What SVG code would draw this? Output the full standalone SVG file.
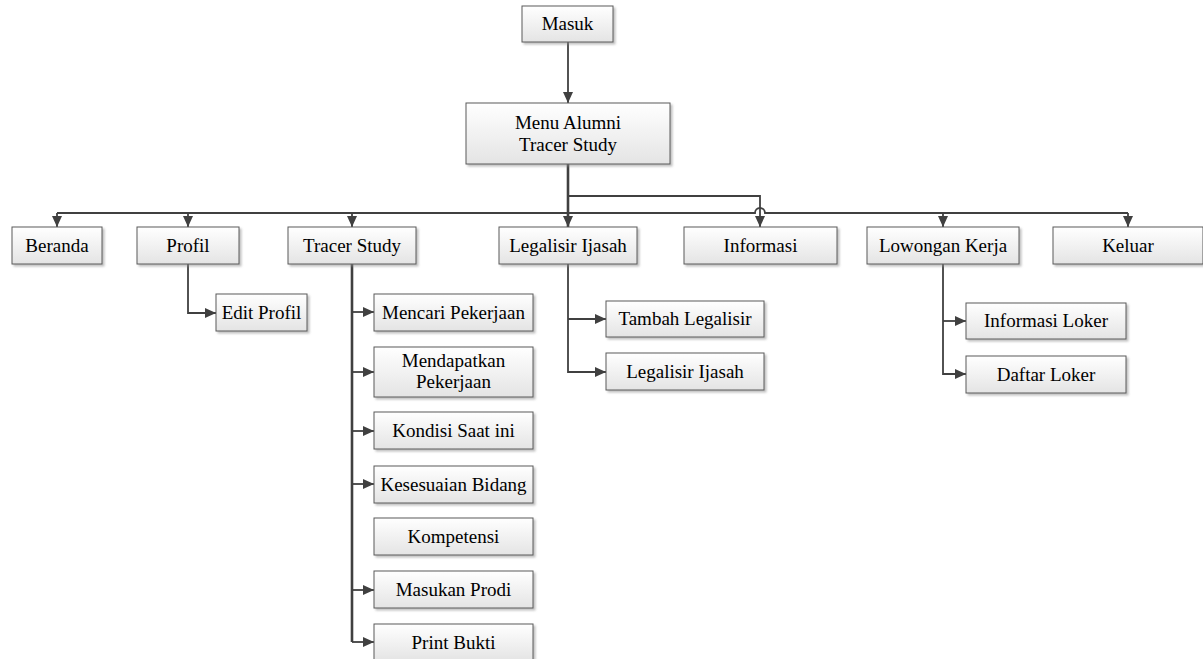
<svg xmlns="http://www.w3.org/2000/svg" width="1203" height="659" viewBox="0 0 1203 659">
<defs>
<linearGradient id="g" x1="0" y1="0" x2="0" y2="1">
<stop offset="0" stop-color="#ffffff"/>
<stop offset="1" stop-color="#e4e4e4"/>
</linearGradient>
<filter id="sh" x="-10%" y="-10%" width="130%" height="140%">
<feDropShadow dx="2" dy="2" stdDeviation="1" flood-color="#8a8a8a" flood-opacity="0.55"/>
</filter>
<marker id="ar" markerUnits="userSpaceOnUse" markerWidth="11" markerHeight="10" refX="11" refY="5" orient="auto">
<path d="M0,0 L11,5 L0,10 z" fill="#404040"/>
</marker>
</defs>
<style>
.box{fill:url(#g);stroke:#5a5a5a;stroke-width:1;filter:url(#sh)}
.t{font-family:'Liberation Serif','Times New Roman','DejaVu Serif',serif;font-size:19px;fill:#000;text-anchor:middle}
.c{fill:none;stroke:#404040;stroke-width:1.8}
.thick{stroke-width:2.6}
.a{marker-end:url(#ar)}
</style>
<rect width="1203" height="659" fill="#fff"/>
<g id="connectors">
<path class="c a" d="M568,42 V103"/>
<path class="c thick a" d="M568,164 V227"/>
<path class="c a" d="M568,196 H760 V227"/>
<path class="c" d="M57,213 H755 A5,5 0 0 1 765,213 H1128"/>
<path class="c a" d="M57,213 V227"/>
<path class="c a" d="M188,213 V227"/>
<path class="c a" d="M352,213 V227"/>
<path class="c a" d="M943,213 V227"/>
<path class="c a" d="M1128,213 V227"/>
<path class="c a" d="M188,264 V313 H216"/>
<path class="c thick" d="M352,264 V642"/>
<path class="c a" d="M352,642 H374"/>
<path class="c a" d="M352,312 H374"/>
<path class="c a" d="M352,372 H374"/>
<path class="c a" d="M352,431 H374"/>
<path class="c a" d="M352,484 H374"/>
<path class="c a" d="M352,590 H374"/>
<path class="c a" d="M568,264 V372 H606"/>
<path class="c a" d="M568,319 H606"/>
<path class="c a" d="M943,264 V374 H966"/>
<path class="c a" d="M943,321 H966"/>
</g>
<g font-family="Liberation Serif, Times New Roman, serif">
<g id="masuk"><rect class="box" x="522" y="6" width="91" height="36"/><text class="t" x="567.5" y="30">Masuk</text></g>
<g id="menu"><rect class="box" x="466" y="103" width="204" height="61"/><text class="t" x="568" y="129">Menu Alumni</text><text class="t" x="568" y="151">Tracer Study</text></g>
<g id="beranda"><rect class="box" x="12" y="227" width="90" height="37"/><text class="t" x="57" y="252">Beranda</text></g>
<g id="profil"><rect class="box" x="137" y="227" width="102" height="37"/><text class="t" x="188" y="252">Profil</text></g>
<g id="tracer"><rect class="box" x="288" y="227" width="128" height="37"/><text class="t" x="352" y="252">Tracer Study</text></g>
<g id="legalisir"><rect class="box" x="499" y="227" width="138" height="37"/><text class="t" x="568" y="252">Legalisir Ijasah</text></g>
<g id="informasi"><rect class="box" x="684" y="227" width="153" height="37"/><text class="t" x="760.5" y="252">Informasi</text></g>
<g id="lowongan"><rect class="box" x="867" y="227" width="152" height="37"/><text class="t" x="943" y="252">Lowongan Kerja</text></g>
<g id="keluar"><rect class="box" x="1053" y="227" width="150" height="37"/><text class="t" x="1128" y="252">Keluar</text></g>
<g id="editprofil"><rect class="box" x="216" y="294" width="91" height="37"/><text class="t" x="261.5" y="319">Edit Profil</text></g>
<g id="mencari"><rect class="box" x="374" y="294" width="159" height="37"/><text class="t" x="453.5" y="319">Mencari Pekerjaan</text></g>
<g id="mendapatkan"><rect class="box" x="374" y="347" width="159" height="50"/><text class="t" x="453.5" y="367">Mendapatkan</text><text class="t" x="453.5" y="388">Pekerjaan</text></g>
<g id="kondisi"><rect class="box" x="374" y="412" width="159" height="37"/><text class="t" x="453.5" y="437">Kondisi Saat ini</text></g>
<g id="kesesuaian"><rect class="box" x="374" y="466" width="159" height="37"/><text class="t" x="453.5" y="491">Kesesuaian Bidang</text></g>
<g id="kompetensi"><rect class="box" x="374" y="518" width="159" height="37"/><text class="t" x="453.5" y="543">Kompetensi</text></g>
<g id="masukan"><rect class="box" x="374" y="571" width="159" height="37"/><text class="t" x="453.5" y="596">Masukan Prodi</text></g>
<g id="print"><rect class="box" x="374" y="624" width="159" height="37"/><text class="t" x="453.5" y="649">Print Bukti</text></g>
<g id="tambah"><rect class="box" x="606" y="301" width="158" height="36"/><text class="t" x="685" y="325">Tambah Legalisir</text></g>
<g id="legalisir2"><rect class="box" x="606" y="353" width="158" height="37"/><text class="t" x="685" y="378">Legalisir Ijasah</text></g>
<g id="infoloker"><rect class="box" x="966" y="303" width="160" height="36"/><text class="t" x="1046" y="327">Informasi Loker</text></g>
<g id="daftarloker"><rect class="box" x="966" y="356" width="160" height="37"/><text class="t" x="1046" y="381">Daftar Loker</text></g>
</g>
</svg>
